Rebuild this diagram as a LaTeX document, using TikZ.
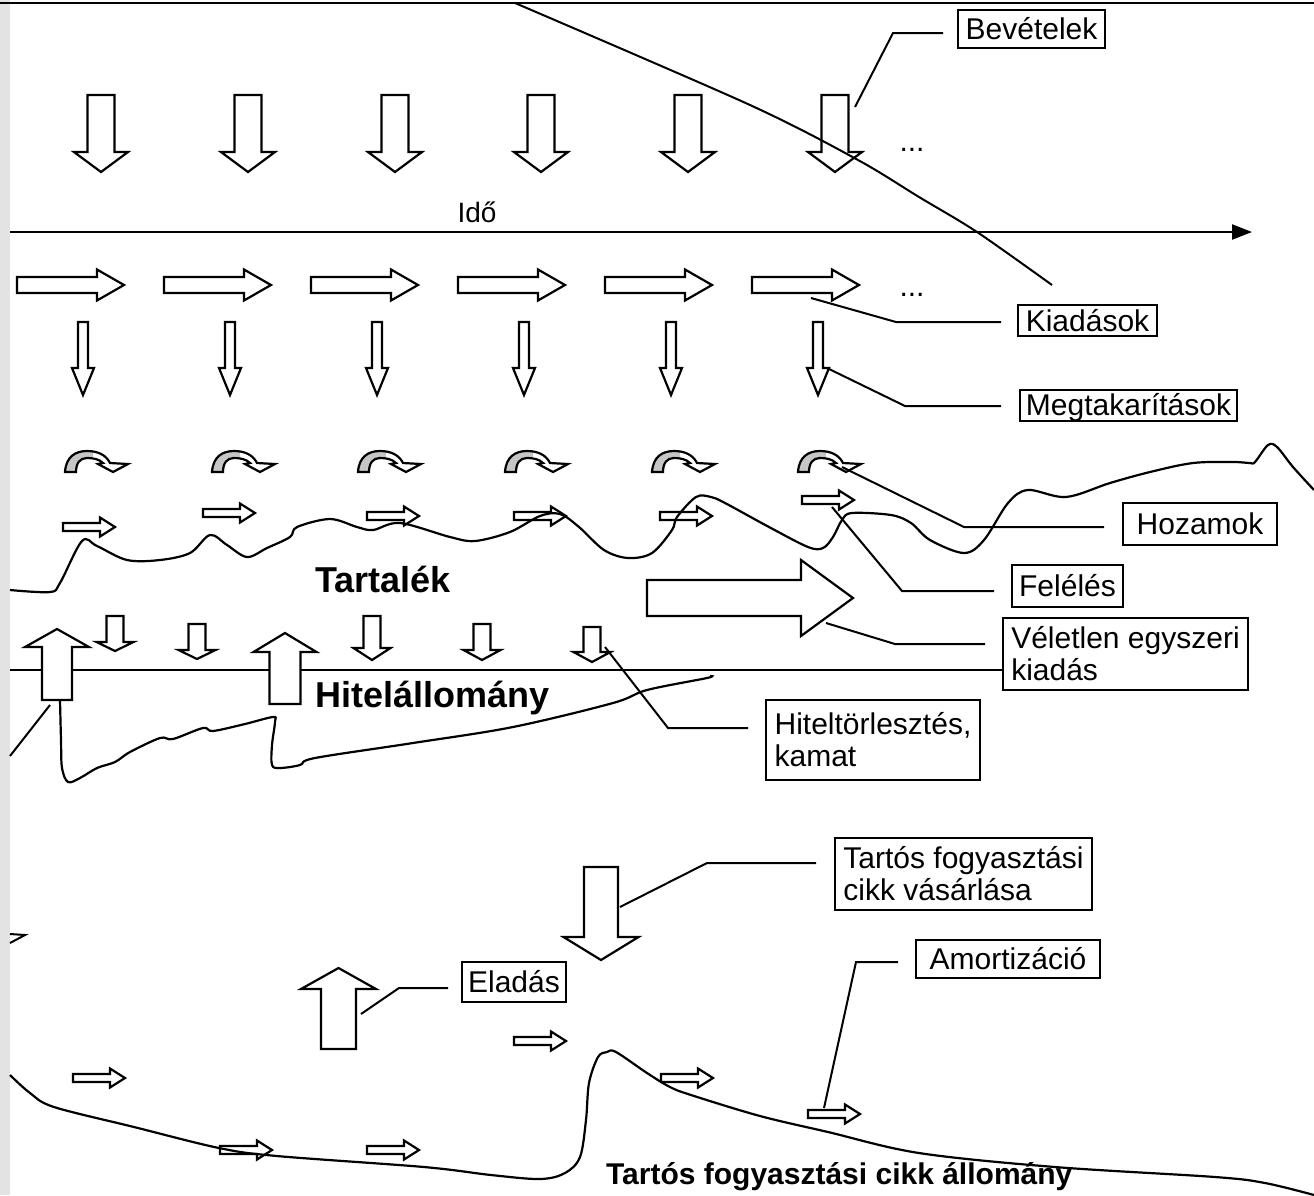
\documentclass[tikz,border=0pt]{standalone}
\usepackage{fontspec}
\setmainfont{Liberation Sans}
\usetikzlibrary{arrows.meta}

\newcommand{\blockv}[6]{\draw[blk] (#1-#3,#2) -- (#1+#3,#2) -- (#1+#3,#5) -- (#1+#4,#5) -- (#1,#6) -- (#1-#4,#5) -- (#1-#3,#5) -- cycle;}
\newcommand{\blockh}[6]{\draw[blk] (#1,#2-#3) -- (#5,#2-#3) -- (#5,#2-#4) -- (#6,#2) -- (#5,#2+#4) -- (#5,#2+#3) -- (#1,#2+#3) -- cycle;}
\newcommand{\hzshape}[1]{#1 (0,0) .. controls (1,-15) and (10,-21) .. (22,-21) .. controls (33,-21) and (41,-17) .. (45,-9) -- (63,-8) -- (48,0) -- (33,-8) -- (38,-9) .. controls (34,-13) and (28,-14) .. (22,-14) .. controls (15,-14) and (11,-9) .. (11,0) -- cycle;}
\newcommand{\hozamarrow}[1]{%
  \begin{scope}[shift={(#1,472)}]
    \hzshape{\fill[white]}
    \begin{scope}
      \clip (-2,-25) rectangle (28,2);
      \hzshape{\fill[gray!45]}
    \end{scope}
    \hzshape{\draw}
  \end{scope}}

\begin{document}
\begin{tikzpicture}[x=1pt,y=-1pt,line width=2.2pt,line join=miter,
            blk/.style={draw,fill=white},
            lbl/.style={draw,fill=white,line width=2pt,inner sep=0pt,align=left,
                font=\fontsize{30}{32}\selectfont},
            lblone/.style={lbl,text height=22pt,text depth=1pt},
            stock/.style={anchor=base west,inner sep=0pt,font=\fontsize{36}{40}\selectfont\bfseries},
            leader/.style={line width=2pt},
            curve/.style={line width=2.2pt,smooth,tension=0.55}]
            \useasboundingbox (0,0) rectangle (1314,1195);
            \fill[gray!22] (0,0) rectangle (10,1195);
            \draw (0,3) -- (1314,3);

            \coordinate (t0) at (10,232);
            \coordinate (t1) at (1252,232);
            \draw[-{Triangle[length=20pt,width=15pt]}] (t0) -- (t1);
            \node[font=\fontsize{28}{30}\selectfont] (ido) at (477,212) {Idő};
            \coordinate (h0) at (10,670);
            \coordinate (h1) at (1003,670);
            \draw (h0) -- (h1);

            \foreach \x in {101,248,395,541,688,835} {\blockv{\x}{95}{13.5}{27}{152}{172}}
            \foreach \x in {17,164,311,458,605,752} {\blockh{\x}{285}{8}{15.5}{\x+80}{\x+107}}
            \foreach \x in {83,230,377,524,671,818} {\blockv{\x}{322}{5}{11}{368}{395}}
            \foreach \x in {65,212,358,505,652,798} {\hozamarrow{\x}}
            \foreach \x/\y in {63/527,203/513,367/516,514/516,660/516,802/500,
                73/1078,220/1150,367/1150,514/1041,661/1078,808/1114}
                {\blockh{\x}{\y}{4}{9.5}{\x+37}{\x+52}}
            \foreach \x/\t/\b/\p in {115/616/642/651,197/624/650/659,372/616/648/660,482/624/650/660,592/627/652/662}
                {\blockv{\x}{\t}{8.5}{18.5}{\b}{\p}}
            \blockv{57}{700}{15}{32}{647}{629}
            \blockv{285}{704}{15.5}{31.5}{652}{633}
            \blockv{338.5}{1049}{17.5}{37.5}{989}{968}
            \blockv{601}{867}{17}{37.5}{937}{960}
            \blockh{647}{598}{18}{38}{801}{853}

            \node[font=\fontsize{30}{32}\selectfont] (dotsA) at (912,150) {...};
            \node[font=\fontsize{30}{32}\selectfont] (dotsB) at (912,295) {...};

            \draw[curve] plot coordinates {(10,590) (50,592) (60,583) (82,541) (97,546) (127,560) (160,560)
                (190,553) (210,535) (227,545) (247,557) (267,548) (290,537) (297,527) (330,519) (357,527)
                (373,530) (400,523) (450,537) (475,541) (510,532) (540,516) (560,514) (579,527) (604,550)
                (628,558) (652,553) (672,530) (677,517) (696,497) (711,497) (725,503) (769,527) (808,547)
                (823,548) (833,537) (842,520) (852,513) (891,515) (911,523) (930,540) (964,553) (984,540)
                (1008,503) (1028,490) (1066,497) (1110,483) (1150,472) (1193,463) (1233,462) (1250,463)
                (1255,462) (1268,445) (1277,447) (1293,467) (1314,490)};
            \draw[curve] plot coordinates {(60,700) (61,740) (62,768) (68,782) (80,778) (97,768) (115,762)
                (130,752) (160,738) (173,739) (203,728) (213,731) (245,724) (273,717) (275,722) (272,745)
                (272,765) (280,768) (300,765) (315,758) (413,743) (513,727) (613,703) (647,690) (707,678)
                (710,676)};
            \draw[curve] plot coordinates {(10,1075) (30,1093) (54,1107) (134,1127) (219,1148) (277,1156)
                (424,1167) (491,1175) (540,1179) (565,1173) (580,1157) (586,1120) (589,1083) (598,1057)
                (607,1052) (616,1052) (647,1073) (670,1087) (691,1095) (760,1116) (828,1132) (919,1153)
                (1055,1167) (1215,1177) (1265,1183) (1314,1195)};
            \draw[leader,smooth] plot coordinates {(515,3) (750,105) (858,160) (919,197) (977,232) (1052,285)};

            \node[stock] (tartalek) at (314,592) {Tartalék};
            \node[stock] (hitel) at (314,707) {Hitelállomány};
            \node[stock,font=\fontsize{30}{32}\selectfont\bfseries] (tartos) at (605,1184) {Tartós fogyasztási cikk állomány};

            \node[lblone,minimum width=147,minimum height=38] (bev) at (1031.5,29) {Bevételek};
            \node[lblone,minimum width=139,minimum height=31] (kiad) at (1087.5,320.5) {Kiadások};
            \node[lblone,minimum width=217,minimum height=31] (megt) at (1128.5,405) {Megtakarítások};
            \node[lblone,minimum width=154,minimum height=42] (hoz) at (1200,524) {Hozamok};
            \node[lblone,minimum width=111,minimum height=42] (fel) at (1067.5,586) {Felélés};
            \node[lbl,minimum width=245,minimum height=72] (vel) at (1125.5,654) {Véletlen egyszeri\\kiadás};
            \node[lbl,minimum width=214,minimum height=80] (hitt) at (873,740) {Hiteltörlesztés,\\kamat};
            \node[lbl,minimum width=257,minimum height=72] (vas) at (963.5,874) {Tartós fogyasztási\\cikk vásárlása};
            \node[lblone,minimum width=184,minimum height=38] (amort) at (1008,959) {Amortizáció};
            \node[lblone,minimum width=104,minimum height=40] (elad) at (514,982) {Eladás};

            \coordinate (bevS) at (943,33);   \coordinate (bevK) at (893,33);   \coordinate (bevE) at (855,107);
            \coordinate (kiaS) at (1001,322); \coordinate (kiaK) at (896,322);  \coordinate (kiaE) at (811,298);
            \coordinate (megS) at (1001,406); \coordinate (megK) at (905,406);  \coordinate (megE) at (827,368);
            \coordinate (hozS) at (1104,527); \coordinate (hozK) at (964,527);  \coordinate (hozE) at (842,467);
            \coordinate (felS) at (994,591);  \coordinate (felK) at (902,591);  \coordinate (felE) at (832,507);
            \coordinate (velS) at (985,644);  \coordinate (velK) at (895,644);  \coordinate (velE) at (826,623);
            \coordinate (hitS) at (748,728);  \coordinate (hitK) at (668,728);  \coordinate (hitE) at (605,647);
            \coordinate (vasS) at (816,863);  \coordinate (vasK) at (707,863);  \coordinate (vasE) at (620,907);
            \coordinate (amoS) at (898,962);  \coordinate (amoK) at (856,962);  \coordinate (amoE) at (824,1108);
            \coordinate (eldS) at (448,988);  \coordinate (eldK) at (399,988);  \coordinate (eldE) at (361,1014);
            \foreach \n in {bev,kia,meg,hoz,fel,vel,hit,vas,amo,eld}
                {\draw[leader] (\n S) -- (\n K) -- (\n E);}
            \coordinate (lfA) at (50,705);
            \coordinate (lfB) at (10,756);
            \draw[leader] (lfA) -- (lfB);
            \coordinate (tkA) at (10,934);
            \coordinate (tkB) at (25,935);
            \coordinate (tkC) at (10,943);
            \draw[leader] (tkA) -- (tkB) -- (tkC);
\end{tikzpicture}
\end{document}
